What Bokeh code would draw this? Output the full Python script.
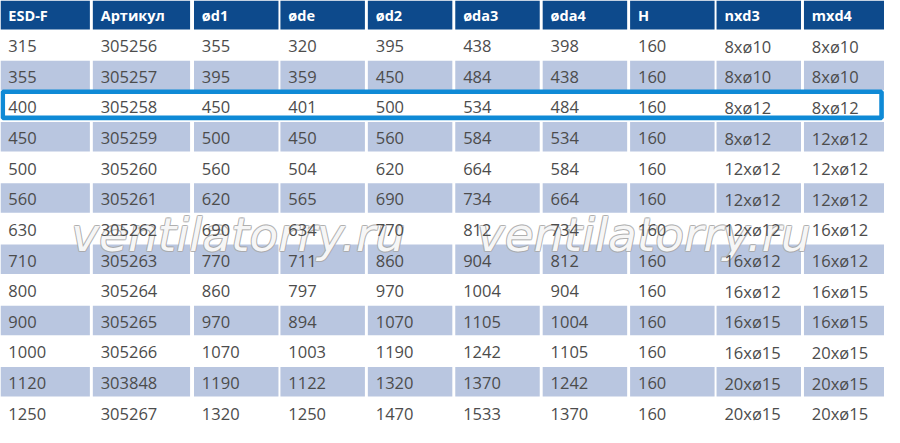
from bokeh.plotting import figure
from bokeh.models import Range1d
from bokeh.core.properties import value
from bokeh.embed import file_html
from bokeh.resources import INLINE

# ---- data ----
headers = ["ESD-F", "Артикул", "ød1", "øde", "ød2", "øda3", "øda4", "H", "nxd3", "mxd4"]
esd_f = [315, 355, 400, 450, 500, 560, 630, 710, 800, 900, 1000, 1120, 1250]
artikul = [305256, 305257, 305258, 305259, 305260, 305261, 305262, 305263, 305264, 305265, 305266, 303848, 305267]
d1 = [355, 395, 450, 500, 560, 620, 690, 770, 860, 970, 1070, 1190, 1320]
de = [320, 359, 401, 450, 504, 565, 634, 711, 797, 894, 1003, 1122, 1250]
d2 = [395, 450, 500, 560, 620, 690, 770, 860, 970, 1070, 1190, 1320, 1470]
da3 = [438, 484, 534, 584, 664, 734, 812, 904, 1004, 1105, 1242, 1370, 1533]
da4 = [398, 438, 484, 534, 584, 664, 734, 812, 904, 1004, 1105, 1242, 1370]
h = [160, 160, 160, 160, 160, 160, 160, 160, 160, 160, 160, 160, 160]
nxd3 = ["8xø10", "8xø10", "8xø12", "8xø12", "12xø12", "12xø12", "12xø12", "16xø12", "16xø12", "16xø15", "16xø15", "20xø15", "20xø15"]
mxd4 = ["8xø10", "8xø10", "8xø12", "12xø12", "12xø12", "12xø12", "16xø12", "16xø12", "16xø15", "16xø15", "20xø15", "20xø15", "20xø15"]
highlight_value = 400
watermark = "ventilatorry.ru"

columns = [esd_f, artikul, d1, de, d2, da3, da4, h, nxd3, mxd4]

# ---- layout (pixel space of the 900x443 picture) ----
W, H = 900, 443
col_left = [0, 94, 197, 285, 374, 463, 552, 641, 729, 818]
col_right = [91, 193, 283, 371, 460, 549, 638, 727, 815, 900]
header_h = 30.0
row_h = (H - header_h) / len(esd_f)
pad = 8

NAVY = "#0d4a8c"
LIGHT = "#b9c6e0"
TXT = "#4c4c4c"
HILITE = "#0f8ad6"

p = figure(width=884, height=427, output_backend="svg", toolbar_location=None,
           x_range=Range1d(0, W), y_range=Range1d(H, 0), min_border=0,
           background_fill_color="white", border_fill_color="white")
p.axis.visible = False
p.grid.visible = False
p.outline_line_color = None

# header cells
p.quad(left=col_left, right=col_right, top=[0] * len(col_left), bottom=[header_h] * len(col_left),
       fill_color=NAVY, line_color=None)

# striped body cells
ql, qr, qt, qb = [], [], [], []
for i in range(len(esd_f)):
    if i % 2 == 1:
        top = header_h + i * row_h + 0.8
        bot = header_h + (i + 1) * row_h - 0.3
        for c in range(len(col_left)):
            ql.append(col_left[c]); qr.append(col_right[c]); qt.append(top); qb.append(bot)
p.quad(left=ql, right=qr, top=qt, bottom=qb, fill_color=LIGHT, line_color=None)

# watermark: grey outline built from offset copies, white fill on top
wm_x = [242, 655]
wm_y = [243, 243]
wm_kw = dict(text_font=value("DejaVu Sans"), text_font_style="italic", text_font_size="47px",
             text_align="center", text_baseline="alphabetic")
for dx, dy in [(-1, 0), (1, 0), (0, -1), (0, 1), (-0.8, -0.8), (0.8, -0.8), (-0.8, 0.8), (0.8, 0.8)]:
    p.text(x=[x + dx for x in wm_x], y=[y + dy for y in wm_y], text=[watermark] * 2,
           text_color="#a8a8a8", text_alpha=0.55, **wm_kw)
p.text(x=wm_x, y=wm_y, text=[watermark] * 2, text_color="white", text_alpha=0.92, **wm_kw)

# header text
p.text(x=[l + pad for l in col_left], y=[header_h / 2 + 1] * len(col_left), text=headers,
       text_font=value("Open Sans"), text_font_style="bold", text_font_size="14.5px",
       text_color="white", text_baseline="middle", text_align="left")

# body text
tx, ty, tt = [], [], []
for c, col in enumerate(columns):
    for i, v in enumerate(col):
        tx.append(col_left[c] + pad)
        ty.append(header_h + (i + 0.5) * row_h + 1.5)
        tt.append(str(v))
p.text(x=tx, y=ty, text=tt, text_font=value("Open Sans"), text_font_size="16.5px",
       text_color=TXT, text_baseline="middle", text_align="left")

# highlighted row frame
hi = esd_f.index(highlight_value)
top = header_h + hi * row_h
p.quad(left=[2.3], right=[897], top=[top + 1.2], bottom=[top + row_h - 3.5],
       fill_color=None, line_color=HILITE, line_width=4.6)

open("out.html", "w").write(file_html(p, INLINE))
